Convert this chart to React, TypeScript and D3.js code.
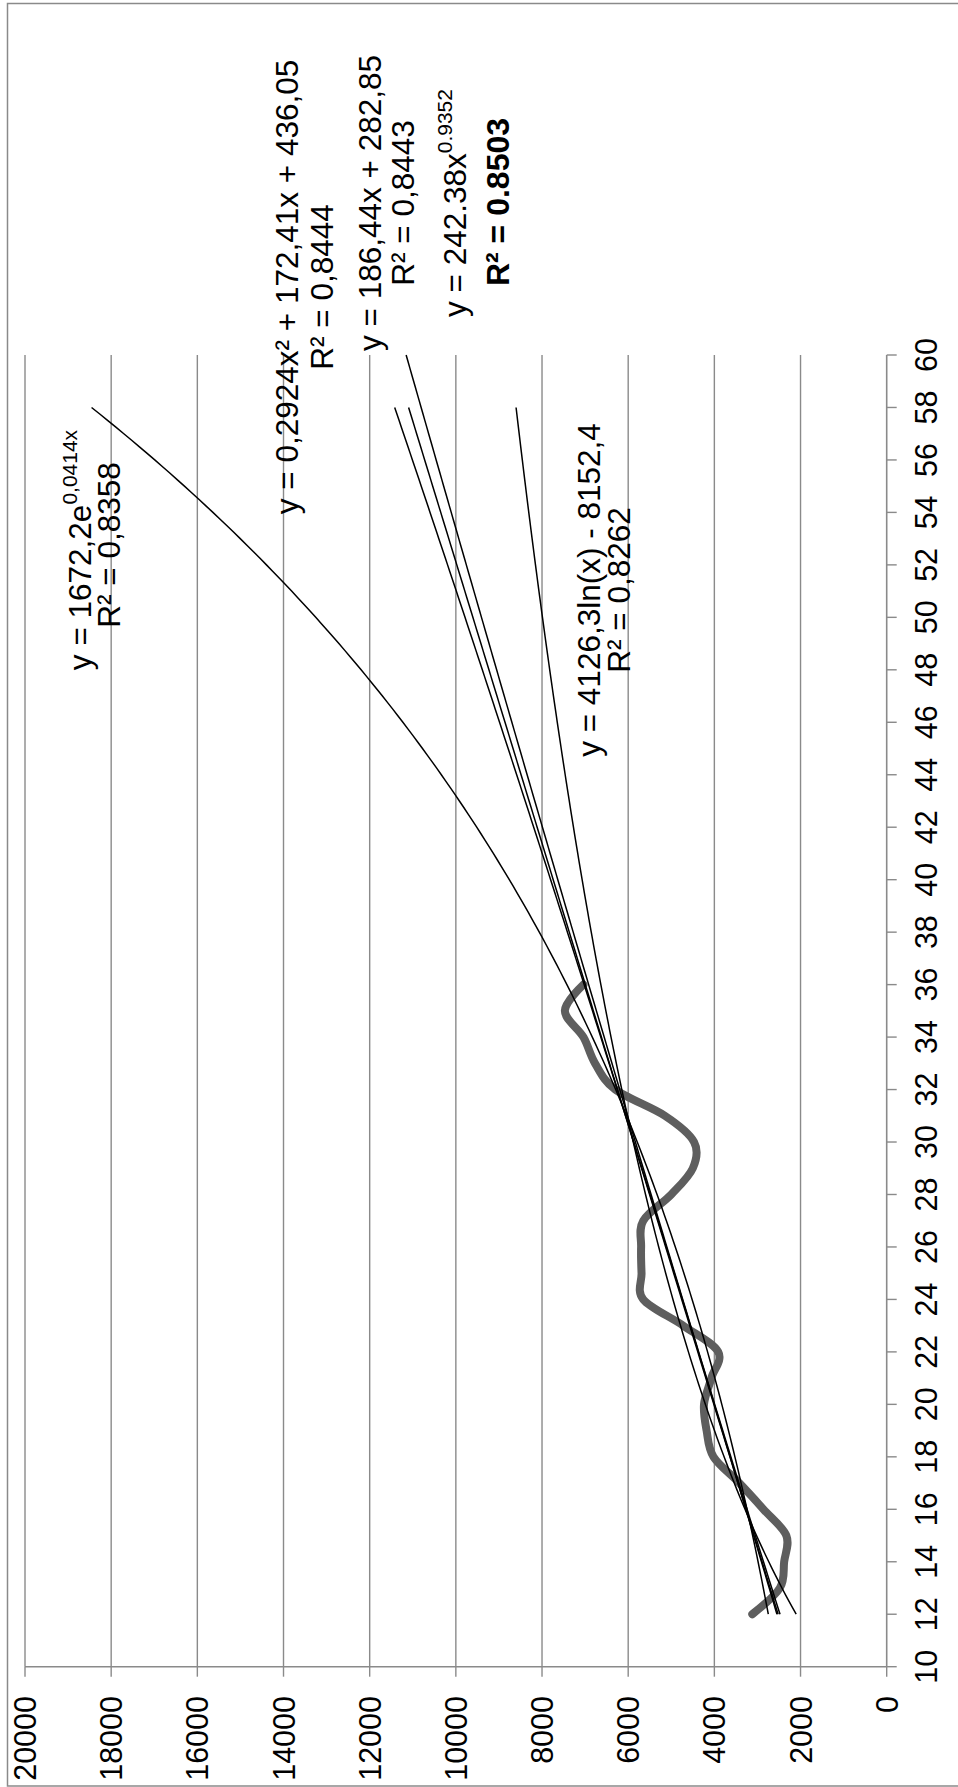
import React from 'react';
import * as d3 from 'd3';

const W = 958;
const H = 1787;

// data series (age on category axis, value on value axis)
const AGES = [12, 13, 14, 15, 16, 17, 18, 19, 20, 21, 22, 23, 24, 25, 26, 27, 28, 29, 30, 31, 32, 33, 34, 35, 36];
const VALUES = [3120, 2480, 2380, 2330, 2860, 3420, 4020, 4180, 4240, 4070, 3910, 4720, 5650, 5690, 5700, 5650, 5000, 4500, 4470, 5150, 6300, 6770, 7040, 7470, 7040];

const VALUE_TICKS = [0, 2000, 4000, 6000, 8000, 10000, 12000, 14000, 16000, 18000, 20000];
const CAT_TICKS = [10, 12, 14, 16, 18, 20, 22, 24, 26, 28, 30, 32, 34, 36, 38, 40, 42, 44, 46, 48, 50, 52, 54, 56, 58, 60];

// trendline coefficients as shown in the chart's equations
const EXP_COEF = [1672.2, 0.0414];
const QUAD_COEF = [0.2924, 172.41, 436.05];
const LIN_COEF = [186.44, 282.85];
const POW_COEF = [242.38, 0.9352];
const LOG_COEF = [4126.3, -8152.4];
const TREND_RANGE = [12, 58];
const POW_RANGE = [12, 60];

const FONT = "'Liberation Sans', Arial, Helvetica, sans-serif";
const GRID = '#8a8a8a';

export default function App() {
  const cat = d3.scaleLinear().domain([10, 60]).range([1666.7, 355]);
  const val = d3.scaleLinear().domain([0, 20000]).range([886.7, 25]);

  const dataPts = AGES.map((a, i) => ({ c: a, v: VALUES[i] }));
  const line = d3
    .line<{ c: number; v: number }>()
    .x((d) => val(d.v))
    .y((d) => cat(d.c));
  const smooth = d3
    .line<{ c: number; v: number }>()
    .x((d) => val(d.v))
    .y((d) => cat(d.c))
    .curve(d3.curveCatmullRom.alpha(0));

  const sample = (range: number[], f: (x: number) => number) =>
    d3.range(range[0], range[1] + 0.0001, 0.25).map((x) => ({ c: x, v: f(x) }));

  const trends = [
    sample(TREND_RANGE, (x) => EXP_COEF[0] * Math.exp(EXP_COEF[1] * x)),
    sample(TREND_RANGE, (x) => QUAD_COEF[0] * x * x + QUAD_COEF[1] * x + QUAD_COEF[2]),
    sample(TREND_RANGE, (x) => LIN_COEF[0] * x + LIN_COEF[1]),
    sample(POW_RANGE, (x) => POW_COEF[0] * Math.pow(x, POW_COEF[1])),
    sample(TREND_RANGE, (x) => LOG_COEF[0] * Math.log(x) + LOG_COEF[1]),
  ];

  const x0 = val(0);
  const yTop = cat(60);
  const yBot = cat(10);

  const rot = (x: number, y: number) => `translate(${x},${y}) rotate(-90)`;
  const LS = 31.5;

  return (
    <svg
      width={W}
      height={H}
      style={{ position: 'absolute', left: 0, top: 0, background: '#fff' }}
      fontFamily={FONT}
    >
      <rect x={0} y={0} width={W} height={H} fill="#fff" />
      {/* outer border */}
      <path d={`M${W + 2},3.5 H7.5 V1786 H${W + 2}`} fill="none" stroke={GRID} strokeWidth={1.5} />

      {/* gridlines */}
      {VALUE_TICKS.filter((t) => t > 0).map((t) => (
        <line key={'g' + t} x1={val(t)} x2={val(t)} y1={yTop} y2={yBot} stroke={GRID} strokeWidth={1.4} />
      ))}

      {/* value axis */}
      <line x1={val(20000)} x2={x0} y1={yBot} y2={yBot} stroke={GRID} strokeWidth={1.6} />
      {VALUE_TICKS.map((t) => (
        <line key={'vt' + t} x1={val(t)} x2={val(t)} y1={yBot} y2={yBot + 10} stroke={GRID} strokeWidth={1.4} />
      ))}
      {VALUE_TICKS.map((t) => (
        <text
          key={'vl' + t}
          transform={rot(val(t), 1696)}
          textAnchor="end"
          dominantBaseline="central"
          fontSize={30.5}
          fill="#000"
        >
          {t}
        </text>
      ))}

      {/* category axis */}
      <line x1={x0} x2={x0} y1={yTop} y2={yBot} stroke={GRID} strokeWidth={1.6} />
      {CAT_TICKS.map((t) => (
        <line key={'ct' + t} x1={x0} x2={x0 + 10} y1={cat(t)} y2={cat(t)} stroke={GRID} strokeWidth={1.4} />
      ))}
      {CAT_TICKS.map((t) => (
        <text
          key={'cl' + t}
          transform={rot(926, cat(t))}
          textAnchor="middle"
          dominantBaseline="central"
          fontSize={30.5}
          fill="#000"
        >
          {t}
        </text>
      ))}

      {/* data series */}
      <path
        d={smooth(dataPts) || ''}
        fill="none"
        stroke="#5e5e5e"
        strokeWidth={8}
        strokeLinecap="round"
        strokeLinejoin="round"
      />

      {/* trendlines */}
      {trends.map((t, i) => (
        <path key={'tr' + i} d={line(t) || ''} fill="none" stroke="#000" strokeWidth={1.5} />
      ))}

      {/* equation labels */}
      <g fill="#000" fontSize={LS}>
        <text transform={rot(80, 550)} textAnchor="middle" dominantBaseline="central">
          y = 1672,2e<tspan dy={-11} fontSize={21}>0,0414x</tspan>
        </text>
        <text transform={rot(109, 545)} textAnchor="middle" dominantBaseline="central">
          R² = 0,8358
        </text>

        <text transform={rot(287, 287)} textAnchor="middle" dominantBaseline="central">
          y = 0,2924x² + 172,41x + 436,05
        </text>
        <text transform={rot(322, 287)} textAnchor="middle" dominantBaseline="central">
          R² = 0,8444
        </text>

        <text transform={rot(370, 203)} textAnchor="middle" dominantBaseline="central">
          y = 186,44x + 282,85
        </text>
        <text transform={rot(403, 203)} textAnchor="middle" dominantBaseline="central">
          R² = 0,8443
        </text>

        <text transform={rot(455, 203)} textAnchor="middle" dominantBaseline="central">
          y = 242.38x<tspan dy={-11} fontSize={21}>0.9352</tspan>
        </text>
        <text
          transform={rot(498, 202)}
          textAnchor="middle"
          dominantBaseline="central"
          fontWeight="bold"
          fontSize={32}
        >
          R² = 0.8503
        </text>

        <text transform={rot(589, 590)} textAnchor="middle" dominantBaseline="central">
          y = 4126,3ln(x) - 8152,4
        </text>
        <text transform={rot(619, 590)} textAnchor="middle" dominantBaseline="central">
          R² = 0,8262
        </text>
      </g>
    </svg>
  );
}
